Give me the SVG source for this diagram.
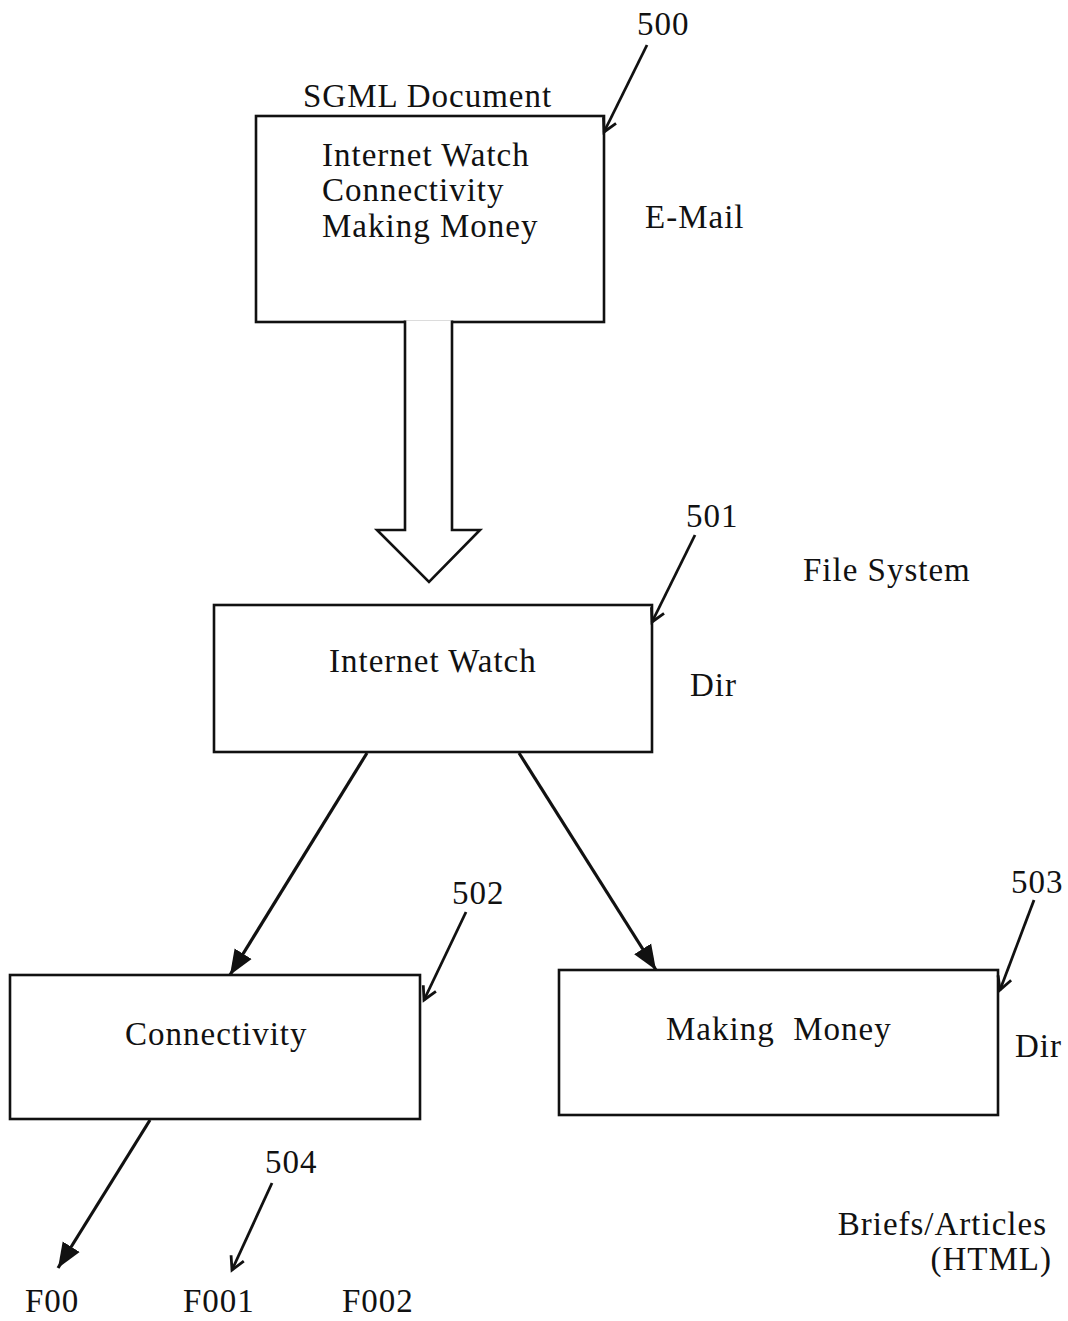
<svg xmlns="http://www.w3.org/2000/svg" width="1068" height="1321" viewBox="0 0 1068 1321">
<style>
text{font-family:"Liberation Serif","Times New Roman",serif;font-size:33px;letter-spacing:1px;fill:#111}
.box{fill:#fff;stroke:#111;stroke-width:2.6}
.conn{stroke:#111;stroke-width:3.2;fill:none}
.call{stroke:#111;stroke-width:2.8;fill:none}
</style>
<defs>
<marker id="solid" markerUnits="userSpaceOnUse" markerWidth="30" markerHeight="26" refX="25" refY="11" orient="auto">
<path d="M0,1 L25,11 L0,21 Z" fill="#111"/>
</marker>
<marker id="open" markerUnits="userSpaceOnUse" markerWidth="22" markerHeight="18" refX="16" refY="9" orient="auto">
<path d="M3,2 L16,9 L3,16" fill="none" stroke="#111" stroke-width="2.8"/>
</marker>
</defs>
<rect width="1068" height="1321" fill="#fff"/>
<g id="n500">
<text x="303" y="107">SGML Document</text>
<rect class="box" x="256" y="116" width="348" height="206"/>
<text x="322" y="166">Internet Watch</text>
<text x="322" y="201">Connectivity</text>
<text x="322" y="237">Making Money</text>
<text x="645" y="228">E-Mail</text>
<text x="637" y="35">500</text>
</g>
<g id="n501">
<rect class="box" x="214" y="605" width="438" height="147"/>
<text x="329" y="672">Internet Watch</text>
<text x="690" y="696">Dir</text>
<text x="686" y="527">501</text>
<text x="803" y="581">File System</text>
</g>
<g id="n502">
<rect class="box" x="10" y="975" width="410" height="144"/>
<text x="125" y="1045">Connectivity</text>
<text x="452" y="904">502</text>
</g>
<g id="n503">
<rect class="box" x="559" y="970" width="439" height="145"/>
<text x="666" y="1040" xml:space="preserve">Making  Money</text>
<text x="1015" y="1057">Dir</text>
<text x="1011" y="893">503</text>
</g>
<g id="n504">
<text x="265" y="1173">504</text>
<text x="25" y="1312">F00</text>
<text x="183" y="1312">F001</text>
<text x="342" y="1312">F002</text>
<text x="1047" y="1235" text-anchor="end">Briefs/Articles</text>
<text x="1052" y="1270" text-anchor="end">(HTML)</text>
</g>
<g id="connectors">
<path d="M405,320.5 V530 H377 L429,582 L480,530 H452 V320.5" fill="#fff" stroke="#111" stroke-width="2.6"/>
<line class="conn" x1="367" y1="753" x2="230" y2="975" marker-end="url(#solid)"/>
<line class="conn" x1="519" y1="753" x2="656" y2="970" marker-end="url(#solid)"/>
<line class="conn" x1="150" y1="1120" x2="58" y2="1268" marker-end="url(#solid)"/>
<line class="call" x1="647" y1="45" x2="604" y2="132" marker-end="url(#open)"/>
<line class="call" x1="695" y1="535" x2="652" y2="622" marker-end="url(#open)"/>
<line class="call" x1="466" y1="912" x2="424" y2="1000" marker-end="url(#open)"/>
<line class="call" x1="1034" y1="900" x2="1000" y2="990" marker-end="url(#open)"/>
<line class="call" x1="272" y1="1183" x2="232" y2="1270" marker-end="url(#open)"/>
</g>
</svg>
